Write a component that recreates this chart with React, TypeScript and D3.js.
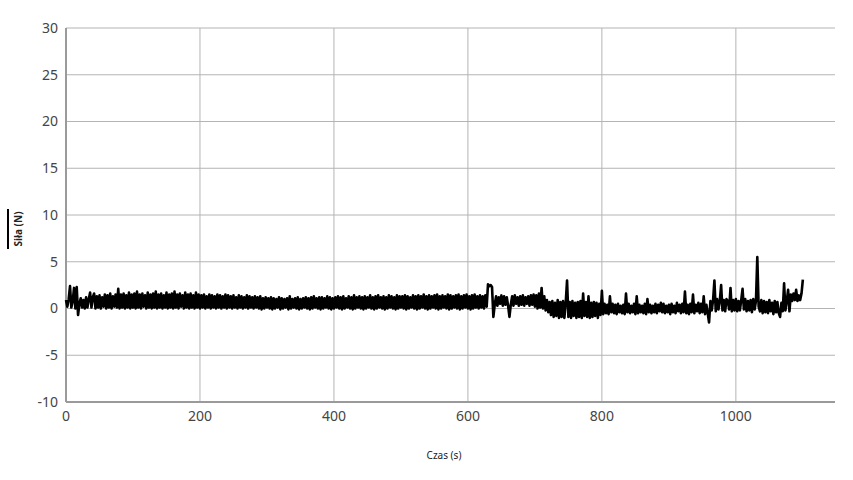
import * as d3 from "d3";

// force readings (N), one every STEP seconds
const STEP = 2;
const forceValues = [
  0.9, 0.2, 1.0, 2.4, 0.1, 0.8, 2.2, 0.0, 2.3, -0.7,
  0.5, 1.1, 0.1, 0.9, 0.0, 1.2, 0.1, 1.0, 1.7, 0.1,
  1.2, 1.6, 0.0, 1.3, 0.1, 1.4, 0.0, 1.2, 0.2, 1.5,
  0.0, 1.4, 0.1, 1.6, 0.0, 1.3, 0.2, 1.5, 0.1, 2.1,
  0.0, 1.5, 0.1, 1.6, 0.0, 1.4, 0.1, 1.7, 0.0, 1.5,
  0.1, 1.6, 0.0, 1.8, 0.1, 1.5, 0.0, 1.6, 0.2, 1.4,
  0.0, 1.7, 0.1, 1.5, 0.0, 1.6, 0.1, 1.8, 0.0, 1.5,
  0.1, 1.6, 0.0, 1.4, 0.1, 1.7, 0.0, 1.5, 0.1, 1.6,
  0.0, 1.8, 0.1, 1.5, 0.0, 1.6, 0.2, 1.4, 0.0, 1.7,
  0.1, 1.5, 0.0, 1.6, 0.1, 1.4, 0.0, 1.7, 0.1, 1.5,
  0.0, 1.4, 0.1, 1.5, 0.0, 1.3, 0.1, 1.5, 0.0, 1.4,
  0.1, 1.3, 0.0, 1.5, 0.1, 1.4, 0.0, 1.3, 0.1, 1.5,
  0.0, 1.4, 0.1, 1.3, 0.0, 1.4, 0.1, 1.2, 0.0, 1.4,
  0.1, 1.3, 0.0, 1.2, 0.1, 1.4, 0.0, 1.3, 0.1, 1.2,
  0.0, 1.3, 0.1, 1.2, 0.0, 1.3, -0.1, 1.1, 0.0, 1.2,
  0.1, 1.1, 0.0, 1.2, -0.1, 1.1, 0.0, 1.0, 0.1, 1.2,
  -0.1, 1.1, 0.0, 1.0, 0.1, 1.1, -0.1, 1.3, 0.0, 1.0,
  0.1, 1.1, 0.0, 1.2, -0.1, 1.0, 0.0, 1.1, 0.1, 1.2,
  0.0, 1.1, -0.1, 1.2, 0.0, 1.3, 0.1, 1.1, 0.0, 1.2,
  -0.1, 1.2, 0.0, 1.1, 0.1, 1.3, 0.0, 1.2, -0.1, 1.1,
  0.0, 1.2, 0.1, 1.3, 0.0, 1.2, -0.1, 1.3, 0.0, 1.1,
  0.1, 1.3, 0.0, 1.2, -0.1, 1.4, 0.0, 1.2, 0.1, 1.3,
  0.0, 1.2, -0.1, 1.3, 0.0, 1.2, 0.1, 1.4, 0.0, 1.2,
  -0.1, 1.3, 0.0, 1.4, 0.1, 1.2, 0.0, 1.3, -0.1, 1.2,
  0.0, 1.4, 0.1, 1.3, 0.0, 1.2, -0.1, 1.4, 0.0, 1.3,
  0.1, 1.3, 0.0, 1.4, -0.1, 1.3, 0.0, 1.2, 0.1, 1.4,
  0.0, 1.3, -0.1, 1.4, 0.0, 1.3, 0.1, 1.5, 0.0, 1.3,
  -0.1, 1.4, 0.0, 1.3, 0.1, 1.4, 0.0, 1.5, -0.1, 1.3,
  0.0, 1.4, 0.1, 1.3, 0.0, 1.5, -0.1, 1.4, 0.0, 1.3,
  0.1, 1.4, 0.0, 1.5, -0.1, 1.3, 0.0, 1.4, 0.1, 1.5,
  0.0, 1.3, -0.1, 1.4, 0.0, 1.5, 0.1, 1.3, 0.0, 1.4,
  0.1, 1.3, 0.0, 1.4, 0.2, 2.6, 2.4, 2.5, 2.3, -0.9,
  0.4, 1.3, 0.3, 1.2, 0.5, 1.4, 0.3, 1.3, 0.4, 1.2,
  0.3, -0.9, 0.4, 1.3, 0.3, 1.4, 0.5, 1.2, 0.3, 1.3,
  0.4, 1.4, 0.3, 1.2, 0.5, 1.3, 0.3, 1.4, 0.4, 1.5,
  0.2, 1.4, 0.0, 1.6, 0.1, 2.2, 0.0, 1.3, -0.2, 0.9,
  -0.4, 0.7, -0.7, 0.8, -0.9, 0.6, -0.8, 0.9, -1.0, 0.7,
  -0.9, 0.8, -1.0, 0.6, 3.0, -0.9, 0.7, -1.0, 0.8, -0.8,
  0.6, -1.0, 0.7, -0.9, 0.8, -1.0, 1.6, -0.8, 0.7, -0.9,
  1.3, -1.0, 0.6, -0.9, 0.7, -0.8, 0.6, -1.0, 0.5, -0.7,
  1.9, -0.6, 0.5, -0.5, 0.4, -0.6, 1.3, -0.4, 0.5, -0.5,
  0.4, -0.6, 0.5, -0.4, 0.3, -0.5, 0.4, -0.6, 1.6, -0.4,
  0.5, -0.5, 0.3, -0.4, 0.5, -0.6, 1.3, -0.5, 0.4, -0.4,
  0.3, -0.5, 0.5, -0.6, 1.0, -0.4, 0.4, -0.5, 0.3, -0.4,
  0.5, -0.5, 0.4, -0.3, 0.6, -0.4, 0.5, -0.5, 0.3, -0.4,
  0.4, -0.6, 0.5, -0.4, 0.3, -0.5, 0.6, -0.3, 0.4, -0.5,
  0.5, -0.4, 1.8, -0.5, 0.4, -0.6, 0.5, -0.4, 1.5, -0.5,
  0.4, -0.3, 0.6, -0.5, 0.5, -0.4, 1.3, -0.6, 0.4, -0.5,
  -1.5, 0.8, -0.2, 0.9, 3.0, -0.3, 1.0, -0.1, 0.8, 2.5,
  -0.2, 0.9, -0.3, 1.0, 0.8, -0.1, 2.2, -0.3, 0.9, -0.2,
  1.0, -0.3, 0.8, -0.2, 0.9, 2.1, -0.1, 1.0, -0.3, 0.8,
  -0.2, 0.9, -0.4, 1.0, -0.1, 0.8, 5.5, 0.2, -0.3, 0.9,
  -0.5, 0.8, -0.4, 0.7, -0.5, 0.9, -0.3, 0.6, -0.6, 0.8,
  -0.4, 0.7, -0.5, -0.9, 0.6, -0.3, 2.7, -0.2, 0.8, 2.0,
  -0.3, 1.5, 0.8, 1.6, 0.9, 2.0, 0.8, 1.4, 0.9, 1.6,
  3.1,
];
const xTicks = [0, 200, 400, 600, 800, 1000];
const yTicks = [-10, -5, 0, 5, 10, 15, 20, 25, 30];

const W = 853;
const H = 480;
const margin = { top: 28, right: 18, bottom: 78, left: 66 };
const font = "'Noto Sans', 'Open Sans', sans-serif";

export default function App() {
  const x = d3.scaleLinear().domain([0, 1148]).range([margin.left, W - margin.right]);
  const y = d3.scaleLinear().domain([-10, 30]).range([H - margin.bottom, margin.top]);

  const points: [number, number][] = forceValues.map((v, i) => [i * STEP, v]);
  const line = d3
    .line<[number, number]>()
    .x((d) => x(d[0]))
    .y((d) => y(d[1]));

  const x0 = margin.left;
  const x1 = W - margin.right;
  const y0 = H - margin.bottom;
  const y1 = margin.top;

  return (
    <svg
      width={W}
      height={H}
      style={{ position: "absolute", left: 0, top: 0, background: "#fff" }}
      fontFamily={font}
    >
      {/* horizontal grid */}
      {yTicks.map((t) => (
        <line key={"gy" + t} x1={x0} x2={x1} y1={y(t)} y2={y(t)} stroke="#b4b4b4" strokeWidth={1} />
      ))}
      {/* vertical grid */}
      {xTicks.map((t) => (
        <line key={"gx" + t} x1={x(t)} x2={x(t)} y1={y1} y2={y0} stroke="#b4b4b4" strokeWidth={1} />
      ))}
      {/* axes */}
      <line x1={x0} x2={x0} y1={y1} y2={y0} stroke="#9a9a9a" strokeWidth={2} />
      <line x1={x0} x2={x1} y1={y0} y2={y0} stroke="#9a9a9a" strokeWidth={2} />

      {yTicks.map((t) => (
        <text key={"ty" + t} x={x0 - 8} y={y(t)} dy="0.35em" textAnchor="end" fontSize={14} fill="#444">
          {t}
        </text>
      ))}
      {xTicks.map((t) => (
        <text key={"tx" + t} x={x(t)} y={y0 + 19} textAnchor="middle" fontSize={14} fill="#444">
          {t}
        </text>
      ))}

      <path d={line(points) ?? ""} fill="none" stroke="#000" strokeWidth={2.6} strokeLinejoin="round" />

      {/* y axis title with its marker */}
      <line x1={8} x2={8} y1={209} y2={249} stroke="#000" strokeWidth={2} />
      <text
        transform={`translate(22, 229) rotate(-90)`}
        textAnchor="middle"
        fontSize={10}
        fontWeight="bold"
        fill="#222"
      >
        Siła (N)
      </text>
      <text x={444} y={459} textAnchor="middle" fontSize={10} fill="#222">
        Czas (s)
      </text>
    </svg>
  );
}
